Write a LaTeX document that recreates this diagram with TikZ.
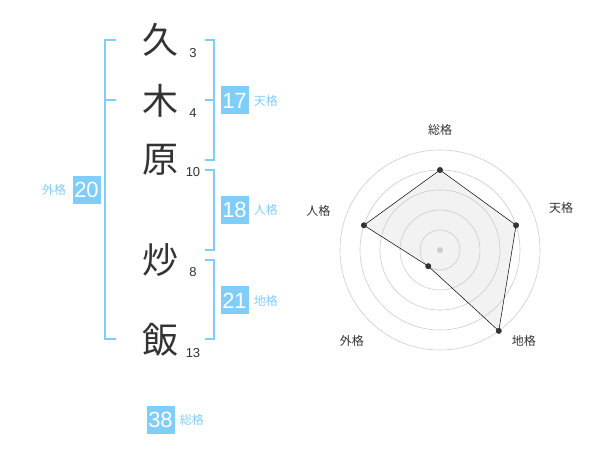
\documentclass[tikz,border=0pt]{standalone}
\usepackage{fontspec}
\setmainfont{Liberation Sans}
\newfontfamily\cjk{Noto Sans CJK JP}
\usetikzlibrary{positioning}
\definecolor{kaku}{HTML}{81CDF9}
\definecolor{ink}{HTML}{333333}
\tikzset{
  kanji/.style={font=\cjk\fontsize{36}{36}\selectfont, text=ink, inner sep=0pt},
  strokes/.style={font=\fontsize{13}{13}\selectfont, text=ink, inner sep=0pt},
  kakubox/.style={fill=kaku, text=white, minimum size=28pt, inner sep=0pt, font=\fontsize{22}{22}\selectfont},
  kakulabel/.style={text=kaku, font=\cjk\fontsize{12}{12}\selectfont, inner sep=0pt},
  bracket/.style={draw=kaku, line width=1.5pt},
  ring/.style={draw=black!20, line width=0.6pt},
  dot/.style={circle, fill=ink, inner sep=0pt, minimum size=6pt},
  axislabel/.style={text=ink, font=\cjk\fontsize{12}{12}\selectfont, inner sep=0pt}
}

\begin{document}
\begin{tikzpicture}[x=1pt,y=-1pt]
  \useasboundingbox (0,0) rectangle (600,470);
  % name and stroke counts
  \node[kanji] (k1) at (160,40) {久};
  \node[kanji] (k2) at (160,101) {木};
  \node[kanji] (k3) at (160,160) {原};
  \node[kanji] (k4) at (160,260) {炒};
  \node[kanji] (k5) at (160,340) {飯};
  \node[strokes] (s1) at (193,53) {3};
  \node[strokes] (s2) at (193,113) {4};
  \node[strokes] (s3) at (193,172) {10};
  \node[strokes] (s4) at (193,272) {8};
  \node[strokes] (s5) at (193,353) {13};
  % brackets
  \draw[bracket] (116,40) -| (105,339) -- (116,339) (105,100) -- (116,100);
  \draw[bracket] (205,40) -| (214,160) -- (205,160) (205,100) -- (214,100);
  \draw[bracket] (205,170) -| (214,250) -- (205,250);
  \draw[bracket] (205,260) -| (214,339) -- (205,339);
  % boxes
  \node[kakubox] (ten) at (234.5,100.5) {17};
  \node[kakulabel, right=5pt of ten] (tenl) {天格};
  \node[kakubox] (jin) at (234.5,210) {18};
  \node[kakulabel, right=5pt of jin] (jinl) {人格};
  \node[kakubox] (chi) at (234.5,300.5) {21};
  \node[kakulabel, right=5pt of chi] (chil) {地格};
  \node[kakubox] (gai) at (86.5,190) {20};
  \node[kakulabel, left=6pt of gai] (gail) {外格};
  \node[kakubox] (sou) at (160.5,419.5) {38};
  \node[kakulabel, right=5pt of sou] (soul) {総格};
  % radar
  \begin{scope}[shift={(440,250)}]
    \coordinate (rc) at (0,0);
    \coordinate (psou) at (-90:80);
    \coordinate (pten) at (-18:80);
    \coordinate (pchi) at (54:100);
    \coordinate (pgai) at (126:20);
    \coordinate (pjin) at (198:80);
    \fill[black!5] (psou) -- (pten) -- (pchi) -- (pgai) -- (pjin) -- cycle;
    \foreach \r in {20,40,60,80,100}
      \draw[ring] (rc) circle (\r);
    \fill[black!20] (rc) circle (3);
    \draw[line width=0.5pt] (psou) -- (pten) -- (pchi) -- (pgai) -- (pjin) -- cycle;
    \foreach \p in {psou,pten,pchi,pgai,pjin}
      \node[dot] at (\p) {};
    \node[axislabel] (asou) at (-90:120) {総格};
    \node[axislabel] (aten) at (-19:128) {天格};
    \node[axislabel] (achi) at (47.5:124) {地格};
    \node[axislabel] (agai) at (134:127) {外格};
    \node[axislabel] (ajin) at (198:128) {人格};
  \end{scope}
\end{tikzpicture}
\end{document}
